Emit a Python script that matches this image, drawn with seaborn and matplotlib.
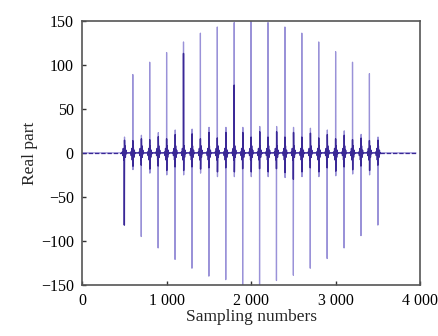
import numpy as np
import pandas as pd
import matplotlib
matplotlib.use("Agg")
import matplotlib.pyplot as plt
import seaborn as sns

# ---- data ----
n_samples = 3950
spike_pos = [500, 600, 700, 800, 900, 1000, 1100, 1200, 1300, 1400, 1500, 1600,
             1700, 1800, 1900, 2000, 2100, 2200, 2300, 2400, 2500, 2600, 2700,
             2800, 2900, 3000, 3100, 3200, 3300, 3400, 3500]
spike_amp = [-82, 89, -95, 103, -108, 114, -121, 126, -131, 136, -140, 143,
             -144, 148, -156, 156, -156, 148, -145, 143, -139, 136, -131,
             126, -120, 115, -108, 103, -94, 90, -82]
lobe_amp = [18, -19, 20, -23, 23, -25, 26, -25, 27, -23, 29, -27,
            29, -27, 29, -27, 30, -27, 30, -28, 29, -27, 28,
            -27, 26, -26, 25, -24, 21, -25, 18]
dark_amp = [-82, 14, -14, 15, -15, 16, -16, 113, -16, 16, -17, 17,
            -17, 77, -18, 18, -18, 18, -18, 18, -30, 18, -17,
            17, -17, 16, -16, 15, -15, 14, -14]
ring_offsets = [-24, -18, -12, -6, 6, 12, 18, 24]
ring_values = [1, -3, 5, -8, 8, -5, 3, -1]
x_ticks = [0, 1000, 2000, 3000, 4000]
x_ticklabels = ["0", "1 000", "2 000", "3 000", "4 000"]
y_ticks = [-150, -100, -50, 0, 50, 100, 150]
y_ticklabels = ["\u2212150", "\u2212100", "\u221250", "0", "50", "100", "150"]

# ---- build series ----
x = np.arange(0, n_samples + 1)
y_light = np.zeros(len(x), dtype=float)
y_dark = np.zeros(len(x), dtype=float)
for p, a, l, d in zip(spike_pos, spike_amp, lobe_amp, dark_amp):
    for o, v in zip(ring_offsets, ring_values):
        y_light[p + o] += v
        y_dark[p + o] += v
    y_light[p] = a
    y_light[p + 2] = l
    y_dark[p] = d
    y_dark[p + 2] = l * 0.8

df = pd.DataFrame({"n": x, "light": y_light, "dark": y_dark})
inner = df[(df["n"] >= spike_pos[0] - 30) & (df["n"] <= spike_pos[-1] + 30)]
outer_l = df[df["n"] <= spike_pos[0] - 30]
outer_r = df[df["n"] >= spike_pos[-1] + 30]

sns.set_style("ticks")
plt.rcParams['font.family'] = ['Liberation Serif', 'DejaVu Serif']

fig = plt.figure(figsize=(4.39, 3.36), dpi=100)
ax = fig.add_axes([0.187, 0.152, 0.770, 0.786])

sns.lineplot(data=df, x="n", y="light", ax=ax, color="#9a92d8", lw=0.9,
             estimator=None)
sns.lineplot(data=inner, x="n", y="dark", ax=ax, color="#3a2896", lw=1.0,
             estimator=None)
for part in (outer_l, outer_r):
    sns.lineplot(data=part, x="n", y="dark", ax=ax, color="#3a2896", lw=0.9,
                 estimator=None, linestyle=(0, (3.5, 1.5)))

ax.set_xlim(0, 4000)
ax.set_ylim(-150, 150)
ax.set_xticks(x_ticks)
ax.set_xticklabels(x_ticklabels)
ax.set_yticks(y_ticks)
ax.set_yticklabels(y_ticklabels)
ax.tick_params(direction="in", length=3, width=1, colors="#333333",
               labelsize=11.5)
ax.tick_params(axis="y", pad=6)
ax.tick_params(axis="x", pad=6)
for lab in ax.get_xticklabels() + ax.get_yticklabels():
    lab.set_color("black")
for s in ax.spines.values():
    s.set_visible(True)
    s.set_color("#555555")
    s.set_linewidth(1.2)
ax.set_xlabel("Sampling numbers", fontsize=12.5, labelpad=0)
ax.set_ylabel("Real part", fontsize=12.5, labelpad=2)

fig.savefig("out.png", dpi=100)
